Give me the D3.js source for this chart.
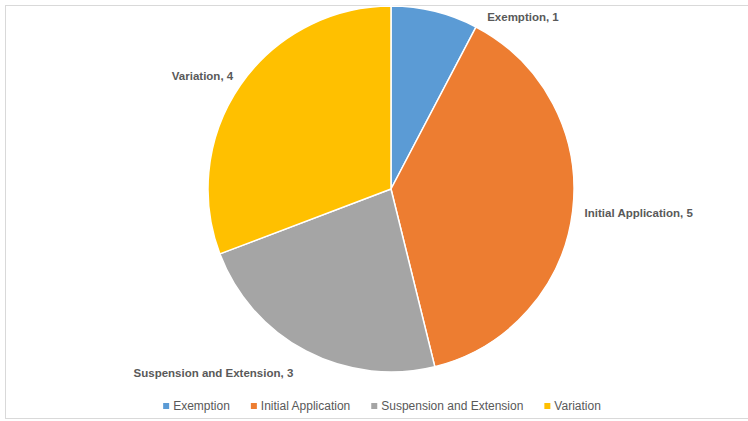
<!DOCTYPE html>
<html>
<head>
<meta charset="utf-8">
<script src="https://cdn.jsdelivr.net/npm/d3@7"></script>
<style>
  body { margin: 0; background: #fff; }
  text { font-family: "Liberation Sans", Arial, sans-serif; fill: #595959; }
</style>
</head>
<body>
<div id="chart"></div>
<script>
var svgWidth = 748;
var svgHeight = 421;

var categories = ["Exemption", "Initial Application", "Suspension and Extension", "Variation"];
var values = [1, 5, 3, 4];
var colors = ["#5B9BD5", "#ED7D31", "#A5A5A5", "#FFC000"];

// label nudges (dx, dy) and anchors, Excel moves these around the pie
var labelAnchor = ["start", "start", "end", "end"];
var labelNudge = [[50, 15], [2, 1], [-8, 13], [1, -3]];

var cx = 391, cy = 189, radius = 183;

var svg = d3.select("#chart")
  .append("svg")
  .attr("width", svgWidth)
  .attr("height", svgHeight);

// chart area border
svg.append("rect")
  .attr("x", 5.5)
  .attr("y", 5.5)
  .attr("width", 760)
  .attr("height", 413)
  .attr("fill", "none")
  .attr("stroke", "#d9d9d9")
  .attr("stroke-width", 1);

var data = categories.map(function(c, i) {
  return { name: c, value: values[i], color: colors[i], i: i };
});

var pie = d3.pie()
  .value(d => d.value)
  .sort(null);

var arc = d3.arc()
  .innerRadius(0)
  .outerRadius(radius);

var labelArc = d3.arc()
  .innerRadius(radius + 10)
  .outerRadius(radius + 10);

var color = d3.scaleOrdinal()
  .domain(categories)
  .range(colors);

var pieGroup = svg.append("g")
  .attr("transform", `translate(${cx}, ${cy})`);

var arcs = pie(data);

pieGroup.selectAll(".slice")
  .data(arcs)
  .enter()
  .append("path")
  .attr("class", "slice")
  .attr("d", arc)
  .attr("fill", d => color(d.data.name))
  .attr("stroke", "#fff")
  .attr("stroke-width", 1.5);

pieGroup.selectAll(".label")
  .data(arcs)
  .enter()
  .append("text")
  .attr("class", "label")
  .attr("x", d => labelArc.centroid(d)[0] + labelNudge[d.data.i][0])
  .attr("y", d => labelArc.centroid(d)[1] + labelNudge[d.data.i][1])
  .attr("dy", "0.35em")
  .attr("text-anchor", d => labelAnchor[d.data.i])
  .style("font-size", "11.5px")
  .style("font-weight", "bold")
  .text(d => `${d.data.name}, ${d.data.value}`);

// legend
var legend = svg.append("g").attr("class", "legend");
var items = legend.selectAll(".item")
  .data(data)
  .enter()
  .append("g")
  .attr("class", "item");

items.append("rect")
  .attr("width", 6)
  .attr("height", 6)
  .attr("y", -3)
  .attr("fill", d => d.color);

items.append("text")
  .attr("x", 10)
  .attr("dy", "0.35em")
  .style("font-size", "12px")
  .text(d => d.name);

var gap = 21;
var offsets = [];
var total = 0;
items.each(function(d, i) {
  var w = 10 + d3.select(this).select("text").node().getComputedTextLength();
  offsets.push(total);
  total += w + (i < data.length - 1 ? gap : 0);
});
var startX = 382 - total / 2;
items.attr("transform", (d, i) => `translate(${startX + offsets[i]}, 406)`);
</script>
</body>
</html>
